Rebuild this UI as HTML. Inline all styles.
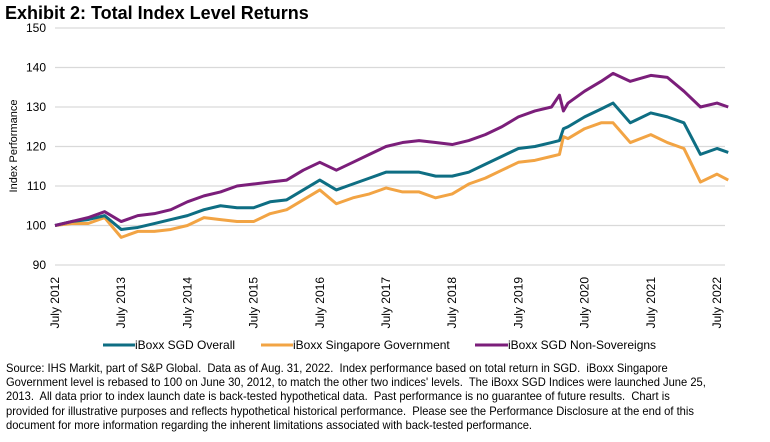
<!DOCTYPE html>
<html><head><meta charset="utf-8"><style>
body{margin:0;background:#fff;width:770px;height:442px;overflow:hidden;font-family:"Liberation Sans",sans-serif;}
svg text{font-family:"Liberation Sans",sans-serif;}
.fn{position:absolute;left:6px;top:361px;font-size:12px;line-height:14.2px;color:#000;white-space:nowrap;}
.fn div{transform:scaleX(0.93);transform-origin:left;}
</style></head><body>
<svg id="chart" width="770" height="442" style="position:absolute;left:0;top:0">
<text x="5" y="19" font-size="18" font-weight="bold" fill="#000">Exhibit 2: Total Index Level Returns</text>
<text transform="translate(17,146) rotate(-90)" text-anchor="middle" font-size="11" fill="#000">Index Performance</text>
<g id="grid"></g><g id="yt"></g><g id="xt"></g><g id="lines"></g>
<g>
<line x1="103" y1="345" x2="135" y2="345" stroke="#0e6e83" stroke-width="3"/>
<text x="135" y="349" font-size="12">iBoxx SGD Overall</text>
<line x1="261" y1="345" x2="293" y2="345" stroke="#f2a444" stroke-width="3"/>
<text x="293" y="349" font-size="12">iBoxx Singapore Government</text>
<line x1="475" y1="345" x2="508" y2="345" stroke="#7b1e7a" stroke-width="3"/>
<text x="508" y="349" font-size="12">iBoxx SGD Non-Sovereigns</text>
</g>
</svg>
<div class="fn">
<div>Source: IHS Markit, part of S&amp;P Global.&nbsp; Data as of Aug. 31, 2022.&nbsp; Index performance based on total return in SGD.&nbsp; iBoxx Singapore</div>
<div>Government level is rebased to 100 on June 30, 2012, to match the other two indices' levels.&nbsp; The iBoxx SGD Indices were launched June 25,</div>
<div>2013.&nbsp; All data prior to index launch date is back-tested hypothetical data.&nbsp; Past performance is no guarantee of future results.&nbsp; Chart is</div>
<div>provided for illustrative purposes and reflects hypothetical historical performance.&nbsp; Please see the Performance Disclosure at the end of this</div>
<div>document for more information regarding the inherent limitations associated with back-tested performance.</div>
</div>
<script>
const dates=[2012.5,2012.75,2013.0,2013.25,2013.5,2013.75,2014.0,2014.25,2014.5,2014.75,2015.0,2015.25,2015.5,2015.75,2016.0,2016.25,2016.5,2016.75,2017.0,2017.25,2017.5,2017.75,2018.0,2018.25,2018.5,2018.75,2019.0,2019.25,2019.5,2019.75,2020.0,2020.12,2020.18,2020.25,2020.5,2020.75,2020.93,2021.19,2021.5,2021.75,2022.0,2022.25,2022.5,2022.67];
const nonSov=[100,101,102,103.5,101,102.5,103,104,106,107.5,108.5,110,110.5,111,111.5,114,116,114,116,118,120,121,121.5,121,120.5,121.5,123,125,127.5,129,130,133,129,131,134,136.5,138.5,136.5,138,137.5,134,130,131,130];
const overall=[100,101,101.5,102.5,99,99.5,100.5,101.5,102.5,104,105,104.5,104.5,106,106.5,109,111.5,109,110.5,112,113.5,113.5,113.5,112.5,112.5,113.5,115.5,117.5,119.5,120,121,121.5,124.5,125,127.5,129.5,131,126,128.5,127.5,126,118,119.5,118.5];
const govt=[100,100.5,100.5,102,97,98.5,98.5,99,100,102,101.5,101,101,103,104,106.5,109,105.5,107,108,109.5,108.5,108.5,107,108,110.5,112,114,116,116.5,117.5,118,122.5,122,124.5,126,126,121,123,121,119.5,111,113,111.5];
const yTicks=[90,100,110,120,130,140,150];
const xYears=[2012,2013,2014,2015,2016,2017,2018,2019,2020,2021,2022];
const NS='http://www.w3.org/2000/svg';
function xs(t){return 55+(t-2012.5)*66.2;}
function ys(v){return 265-(v-90)*3.95;}
function mk(tag,a,p){const e=document.createElementNS(NS,tag);for(const k in a)e.setAttribute(k,a[k]);document.getElementById(p).appendChild(e);return e;}
yTicks.forEach(v=>{
 const g=mk('line',{x1:55,x2:725,y1:ys(v),y2:ys(v),stroke:'#d9d9d9','stroke-width':1.3},'grid');
 
 
 const t=mk('text',{x:46,y:ys(v)+4,'text-anchor':'end','font-size':12},'yt');t.textContent=v;
 
 
});
xYears.forEach(y=>{
 const x=xs(y+0.5)+4;
 const t=mk('text',{transform:`translate(${x},277) rotate(-90)`,'text-anchor':'end','font-size':12},'xt');t.textContent='July '+y;
 
 
});
[[govt,'#f2a444','series-government'],[overall,'#0e6e83','series-overall'],[nonSov,'#7b1e7a','series-non-sovereigns']].forEach(([d,c,n])=>{
 const p=mk('polyline',{points:d.map((v,i)=>xs(dates[i])+','+ys(v)).join(' '),fill:'none',stroke:c,'stroke-width':3,'stroke-linejoin':'round'},'lines');
 
 
});
</script>
</body></html>
